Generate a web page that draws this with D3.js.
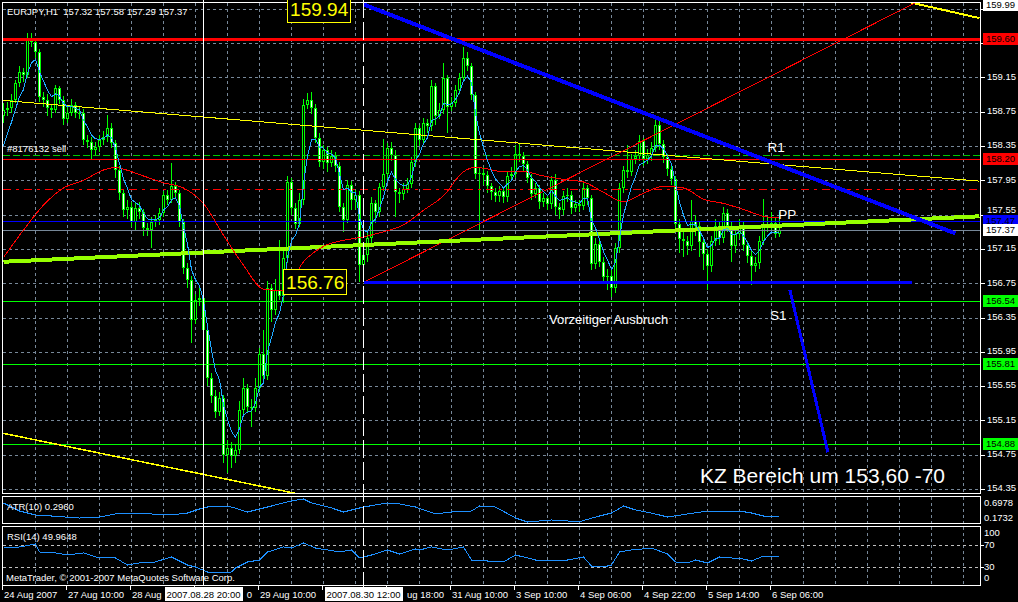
<!DOCTYPE html>
<html>
<head>
<meta charset="utf-8">
<script src="https://cdn.jsdelivr.net/npm/d3@7"></script>
<style>
  html, body { margin: 0; background: #000; }
  svg { display: block; font-family: "Liberation Sans", Arial, sans-serif; }
</style>
</head>
<body>
<svg id="chart" width="1018" height="602"></svg>
<script>
// ---- data (EURJPY H1) ----
var opens = [
  158.70,158.77,158.79,158.89,159.08,159.21,159.18,159.58,159.56,159.44,
  158.92,158.89,158.79,158.77,159.02,158.89,158.67,158.73,158.83,158.74,
  158.73,158.42,158.40,158.30,158.34,158.42,158.45,158.56,158.38,158.07,
  157.80,157.60,157.64,157.46,157.63,157.58,157.39,157.37,157.46,157.49,
  157.57,157.78,157.72,157.88,157.80,157.46,156.93,156.79,156.32,156.55,
  156.58,156.20,155.64,155.43,155.25,155.41,154.75,154.83,154.74,154.81,
  155.27,155.53,155.31,155.29,155.53,155.92,155.67,156.69,156.44,156.67,
  156.60,157.04,157.93,157.63,157.44,157.72,158.83,158.89,158.79,158.44,
  158.16,158.30,158.15,158.23,158.12,157.64,157.49,157.89,157.72,157.78,
  156.96,157.08,157.28,157.68,157.58,157.87,158.02,158.33,158.24,157.81,
  157.79,157.85,157.91,158.16,158.56,158.42,158.62,158.58,159.05,158.70,
  158.77,159.14,158.81,158.85,159.00,159.14,159.37,159.28,158.94,158.02,
  158.03,158.01,157.88,157.81,157.77,157.82,157.75,158.00,158.02,158.26,
  158.23,158.14,157.98,157.79,157.86,157.70,157.74,157.67,157.95,157.64,
  157.60,157.77,157.78,157.63,157.67,157.65,157.86,157.74,156.97,157.21,
  157.00,156.82,156.84,156.69,157.16,157.86,158.07,158.05,158.20,158.23,
  158.41,158.20,158.24,158.33,158.60,158.37,158.22,158.08,157.96,157.44,
  157.27,157.24,157.18,157.47,157.42,157.23,157.09,156.95,157.24,157.42,
  157.28,157.57,157.42,157.18,157.32,157.42,157.20,157.07,156.95,156.98,
  157.24,157.44,157.42,157.45,157.32
];
var highs = [
  158.85,158.86,158.95,159.12,159.28,159.26,159.67,159.67,159.60,159.48,
  158.98,158.95,158.84,159.06,159.05,158.93,158.80,158.90,158.86,158.80,
  158.78,158.48,158.46,158.40,158.48,158.52,158.71,158.62,158.42,158.12,
  157.84,157.72,157.70,157.68,157.70,157.62,157.45,157.52,157.55,157.63,
  157.82,157.84,158.15,157.93,157.84,157.50,156.98,156.84,156.62,156.70,
  156.63,156.25,155.70,155.50,155.48,155.45,154.92,154.90,154.88,155.38,
  155.64,155.58,155.40,155.65,156.00,156.20,156.78,156.74,156.80,157.25,
  157.12,158.00,157.98,157.68,157.80,158.90,158.97,158.98,158.84,158.50,
  158.36,158.34,158.30,158.28,158.16,157.68,157.95,157.94,157.84,157.82,
  157.15,157.35,157.75,157.72,157.92,158.43,158.38,158.40,158.30,157.86,
  157.92,157.98,158.22,158.62,158.60,158.68,158.66,159.12,159.08,158.85,
  159.32,159.18,158.92,159.06,159.20,159.50,159.45,159.32,158.98,158.10,
  158.10,158.06,157.92,157.86,157.88,157.86,158.06,158.10,158.36,158.37,
  158.28,158.18,158.02,157.92,157.90,157.80,157.78,158.00,158.02,157.68,
  157.82,157.86,157.82,157.72,157.72,157.92,157.90,157.78,157.28,157.26,
  157.05,156.92,156.90,157.22,157.92,158.12,158.36,158.26,158.30,158.48,
  158.44,158.32,158.40,158.65,158.65,158.42,158.26,158.12,158.00,157.50,
  157.35,157.30,157.72,157.55,157.48,157.28,157.15,157.30,157.50,157.48,
  157.64,157.62,157.46,157.40,157.50,157.46,157.24,157.12,157.05,157.30,
  157.73,157.52,157.58,157.52,157.58
];
var lows = [
  158.62,158.70,158.74,158.85,159.04,159.10,159.14,159.50,159.38,158.86,
  158.80,158.70,158.68,158.74,158.84,158.60,158.62,158.70,158.68,158.66,
  158.36,158.33,158.19,158.25,158.28,158.36,158.40,158.33,157.98,157.72,
  157.52,157.50,157.40,157.36,157.50,157.30,157.30,157.16,157.40,157.43,
  157.52,157.66,157.68,157.74,157.40,156.86,156.70,156.05,156.28,156.48,
  156.10,155.55,155.35,155.18,155.20,154.66,154.54,154.60,154.65,154.76,
  155.20,155.25,155.07,155.25,155.48,155.62,155.62,156.30,156.38,156.55,
  156.52,156.98,157.55,157.38,157.40,157.66,158.78,158.72,158.38,158.10,
  158.08,158.05,158.10,158.05,157.58,157.35,157.45,157.60,157.60,156.76,
  156.76,157.00,157.22,157.45,157.52,157.82,157.96,158.18,157.52,157.68,
  157.72,157.80,157.86,158.10,158.35,158.38,158.50,158.52,158.60,158.66,
  158.72,158.50,158.76,158.80,158.95,159.10,159.22,158.88,157.96,157.37,
  157.90,157.80,157.72,157.70,157.70,157.68,157.70,157.94,157.98,158.16,
  158.06,157.92,157.72,157.74,157.62,157.64,157.60,157.62,157.55,157.50,
  157.55,157.70,157.56,157.58,157.58,157.60,157.66,156.90,156.92,156.94,
  156.75,156.67,156.59,156.64,157.10,157.80,157.98,158.00,158.14,158.18,
  158.12,158.14,158.18,158.28,158.30,158.15,158.00,157.90,157.38,157.10,
  157.05,157.08,157.12,157.30,157.05,156.90,156.67,156.88,157.18,157.20,
  157.22,157.35,157.00,157.10,157.26,157.12,156.98,156.73,156.88,156.92,
  157.20,157.35,157.36,157.28,157.29
];
var closes = [
  158.77,158.79,158.89,159.08,159.21,159.18,159.58,159.56,159.44,158.92,
  158.89,158.79,158.77,159.02,158.89,158.67,158.73,158.83,158.74,158.73,
  158.42,158.40,158.30,158.34,158.42,158.45,158.56,158.38,158.07,157.80,
  157.60,157.64,157.46,157.63,157.58,157.39,157.37,157.46,157.49,157.57,
  157.78,157.72,157.88,157.80,157.46,156.93,156.79,156.32,156.55,156.58,
  156.20,155.64,155.43,155.25,155.41,154.75,154.83,154.74,154.81,155.27,
  155.53,155.31,155.29,155.53,155.92,155.67,156.69,156.44,156.67,156.60,
  157.04,157.93,157.63,157.44,157.72,158.83,158.89,158.79,158.44,158.16,
  158.30,158.15,158.23,158.12,157.64,157.49,157.89,157.72,157.78,156.96,
  157.08,157.28,157.68,157.58,157.87,158.02,158.33,158.24,157.81,157.79,
  157.85,157.91,158.16,158.56,158.42,158.62,158.58,159.05,158.70,158.77,
  159.14,158.81,158.85,159.00,159.14,159.37,159.28,158.94,158.02,158.03,
  158.01,157.88,157.81,157.77,157.82,157.75,158.00,158.02,158.26,158.23,
  158.14,157.98,157.79,157.86,157.70,157.74,157.67,157.95,157.64,157.60,
  157.77,157.78,157.63,157.67,157.65,157.86,157.74,156.97,157.21,157.00,
  156.82,156.84,156.69,157.16,157.86,158.07,158.05,158.20,158.23,158.41,
  158.20,158.24,158.33,158.60,158.37,158.22,158.08,157.96,157.44,157.27,
  157.24,157.18,157.47,157.42,157.23,157.09,156.95,157.24,157.42,157.28,
  157.57,157.42,157.18,157.32,157.42,157.20,157.07,156.95,156.98,157.24,
  157.44,157.42,157.45,157.32,157.37
];

// fast MA start level (left edge of the blue line)
var emaSeed = 158.35;
var emaPeriod = 5;

// slow MA (red curve), read at sample bars
var slowBars = [0,5,10,15,20,25,28,30,35,40,45,50,55,60,65,70,75,80,85,90,95,100,105,110,115,118,120,125,130,135,140,145,150,155,160,165,170,175,180,185,190,194];
var slowVals = [157.05,157.37,157.66,157.86,157.95,158.07,158.10,158.08,158.00,157.92,157.86,157.68,157.31,156.96,156.68,156.66,157.00,157.18,157.25,157.29,157.35,157.43,157.60,157.77,158.05,158.10,158.09,158.05,158.05,158.00,157.96,157.93,157.81,157.70,157.80,157.88,157.86,157.73,157.68,157.61,157.53,157.51];

// ATR(10)
var atrBars = [0,4,8,12,19,24,28,37,42,46,49,52,57,61,66,70,72,75,77,82,85,90,96,99,103,108,112,117,119,123,128,131,137,144,149,152,155,158,162,166,171,176,184,187,191,194];
var atrVals = [0.607,0.424,0.333,0.310,0.264,0.287,0.356,0.356,0.333,0.378,0.470,0.538,0.515,0.401,0.515,0.607,0.652,0.698,0.607,0.493,0.401,0.515,0.607,0.584,0.515,0.356,0.401,0.424,0.538,0.515,0.264,0.173,0.219,0.180,0.310,0.378,0.538,0.447,0.378,0.287,0.356,0.424,0.424,0.378,0.287,0.296];
var atrMin = 0.1732, atrMax = 0.6978;

// RSI(14)
var rsiBars = [0,4,8,9,13,16,20,24,28,31,34,37,42,46,48,51,53,57,58,61,64,66,70,72,75,78,81,84,87,89,92,96,99,103,104,107,111,115,117,121,125,128,131,134,137,141,145,147,150,152,154,157,162,166,168,171,173,176,179,182,185,187,190,192,194];
var rsiVals = [64.5,66.4,71.8,57.3,55.5,51.8,55.5,46.4,46.4,33.6,37.3,37.3,48.2,33.6,30.0,20.9,19.1,20.9,28.2,39.1,42.7,57.3,66.4,64.5,73.6,64.5,60.9,57.3,60.9,46.4,51.8,60.9,53.6,62.7,60.9,66.4,60.9,66.4,42.7,40.9,39.1,51.8,46.4,40.9,42.7,42.7,48.2,31.8,30.0,33.6,57.3,60.9,64.5,53.6,39.1,37.3,42.7,37.3,48.2,46.4,44.5,40.9,50.0,50.0,49.96];
var rsiLast = 49.9648;
var rsiLevels = [70, 30];
var rsiScaleLabels = [100, 70, 30, 0];

// price axis ticks
var priceTicks = [159.95,159.55,159.15,158.75,158.35,157.95,157.55,157.15,156.75,156.35,155.95,155.55,155.15,154.75,154.35];

// time axis
var timeBars = [0,16,32,48,64,80,96,112,128,144,160,176,192];
var timeLabels = ["24 Aug 2007","27 Aug 10:00","28 Aug 02:00","28 Aug 18:00","29 Aug 10:00","30 Aug 02:00","30 Aug 18:00","31 Aug 10:00","3 Sep 10:00","4 Sep 06:00","4 Sep 22:00","5 Sep 14:00","6 Sep 06:00"];

// vertical line objects
var vlineBars = [50, 90];
var vlineLabels = ["2007.08.28 20:00", "2007.08.30 12:00"];

// horizontal level objects
var levelPrices = [159.60, 158.20, 158.25, 157.85, 157.47, 157.37, 156.54, 155.81, 154.88];
// price markers on the right scale
var markPrices = [159.99, 159.60, 158.20, 157.47, 157.37, 156.54, 155.81, 154.88];

// trend objects: [bar1, price1, bar2, price2]
var blueTrend = [90, 160.00, 238, 157.33];
var blueFlat = [90, 156.76, 227, 156.76];
var blueDrop = [196.6, 156.67, 206.1, 154.78];
var greenTrend = [0, 157.00, 244, 157.53];
var redRay = [90, 156.76, 228, 160.02];
var yellowTop = [0, 158.88, 244, 157.94];
var yellowLow = [0, 155.00, 73, 154.30];
var yellowHigh = [227, 160.02, 244, 159.84];

// price boxes and chart texts
var priceBoxes = [ { t: "159.94", i: 70.9, p: 159.94 }, { t: "156.76", i: 69.9, p: 156.76 } ];
var chartTexts = [
  { t: "R1", i: 191, p: 158.28 },
  { t: "PP", i: 193.7, p: 157.50 },
  { t: "S1", i: 191.6, p: 156.32 },
  { t: "Vorzeitiger Ausbruch", i: 136.4, p: 156.27 },
  { t: "KZ Bereich um 153,60 -70", i: 174.1, p: 154.42 }
];

// ---- drawing ----
var W = 1018, H = 602;
var svg = d3.select("#chart").attr("shape-rendering", "crispEdges");
svg.append("rect").attr("width", W).attr("height", H).attr("fill", "#000");

var x = d3.scaleLinear().domain([0, 244]).range([3.5, 979.5]);
var y = d3.scaleLinear().domain([154.30, 160.02]).range([493.4, 2.7]);
var yAtr = d3.scaleLinear().domain([atrMin, atrMax]).range([522, 499]);
var yRsi = d3.scaleLinear().domain([0, 100]).range([583.5, 528.5]);

var grid = "#778899";
var fontS = "9.5px";

svg.append("clipPath").attr("id", "clipMain")
  .append("rect").attr("x", 3).attr("y", 3).attr("width", 977).attr("height", 490);

// vertical grid (all panels)
var vg = d3.range(8, 244, 8);
[[3, 493], [497, 523], [527, 585]].forEach(function (pp) {
  svg.append("g").selectAll("line").data(vg).join("line")
    .attr("x1", function (d) { return x(d); }).attr("x2", function (d) { return x(d); })
    .attr("y1", pp[0]).attr("y2", pp[1])
    .attr("stroke", grid).attr("stroke-dasharray", "3,3");
});

// horizontal grid
svg.append("g").selectAll("line").data(priceTicks).join("line")
  .attr("x1", 3).attr("x2", 980)
  .attr("y1", function (d) { return Math.round(y(d)) + 0.5; })
  .attr("y2", function (d) { return Math.round(y(d)) + 0.5; })
  .attr("stroke", grid).attr("stroke-dasharray", "3,3");

svg.append("g").selectAll("line").data(rsiLevels).join("line")
  .attr("x1", 3).attr("x2", 980)
  .attr("y1", function (d) { return Math.round(yRsi(d)) + 0.5; })
  .attr("y2", function (d) { return Math.round(yRsi(d)) + 0.5; })
  .attr("stroke", "#c0c0c0").attr("stroke-dasharray", "3,3");

var main = svg.append("g").attr("clip-path", "url(#clipMain)");

// candles
var bars = d3.range(closes.length);
var gc = main.append("g");
gc.selectAll("line").data(bars).join("line")
  .attr("x1", function (i) { return x(i); }).attr("x2", function (i) { return x(i); })
  .attr("y1", function (i) { return Math.round(y(highs[i])); })
  .attr("y2", function (i) { return Math.round(y(lows[i])); })
  .attr("stroke", "#00ff00");
function bTop(i) { return Math.round(y(Math.max(opens[i], closes[i]))); }
function bBot(i) { return Math.round(y(Math.min(opens[i], closes[i]))); }
gc.selectAll("rect.body").data(bars).join("rect").attr("class", "body")
  .attr("x", function (i) { return x(i) - 1.5; }).attr("width", 3)
  .attr("y", bTop)
  .attr("height", function (i) { return Math.max(1, bBot(i) - bTop(i)); })
  .attr("fill", "#00ff00");
gc.selectAll("rect.core").data(bars.filter(function (i) { return bBot(i) - bTop(i) > 2; })).join("rect").attr("class", "core")
  .attr("x", function (i) { return x(i) - 0.5; }).attr("width", 1)
  .attr("y", function (i) { return bTop(i) + 1; })
  .attr("height", function (i) { return bBot(i) - bTop(i) - 2; })
  .attr("fill", function (i) { return closes[i] < opens[i] ? "#ffffff" : "#000000"; });

// levels
var levelStyle = [
  { c: "#ff0000", w: 3 }, { c: "#ff0000", w: 1 }, { c: "#00c800", w: 1, d: "7,3" },
  { c: "#ff0000", w: 1, d: "8,5,3,5" }, { c: "#0000ff", w: 1 }, { c: "#778899", w: 1 },
  { c: "#00ff00", w: 1 }, { c: "#00ff00", w: 1 }, { c: "#00ff00", w: 1 }
];
main.append("g").selectAll("line").data(levelPrices).join("line")
  .attr("x1", 3).attr("x2", 980)
  .attr("y1", function (d, k) { return Math.round(y(d)) + (levelStyle[k].w % 2 ? 0.5 : 0); })
  .attr("y2", function (d, k) { return Math.round(y(d)) + (levelStyle[k].w % 2 ? 0.5 : 0); })
  .attr("stroke", function (d, k) { return levelStyle[k].c; })
  .attr("stroke-width", function (d, k) { return levelStyle[k].w; })
  .attr("stroke-dasharray", function (d, k) { return levelStyle[k].d || null; });

// trend objects
function seg(s, color, w) {
  main.append("line")
    .attr("x1", x(s[0])).attr("y1", y(s[1])).attr("x2", x(s[2])).attr("y2", y(s[3]))
    .attr("stroke", color).attr("stroke-width", w);
}
seg(yellowTop, "#ffff00", 1);
seg(yellowLow, "#ffff00", 1.5);
seg(yellowHigh, "#ffff00", 2);
seg(redRay, "#ff0000", 1);
seg(greenTrend, "#96ff00", 4);
seg(blueFlat, "#0000ff", 3);
seg(blueTrend, "#0000ff", 4);
seg(blueDrop, "#0000ff", 3);

// moving averages
var ema = [];
var k = 2 / (emaPeriod + 1), prev = emaSeed;
closes.forEach(function (c, i) { if (i > 0) prev = prev + k * (c - prev); ema.push(prev); });
main.append("path").datum(slowBars.map(function (b, j) { return [b, slowVals[j]]; }))
  .attr("d", d3.line().x(function (d) { return x(d[0]); }).y(function (d) { return y(d[1]); }).curve(d3.curveMonotoneX))
  .attr("fill", "none").attr("stroke", "#ff0000");
main.append("path").datum(ema)
  .attr("d", d3.line().x(function (d, i) { return x(i); }).y(function (d) { return y(d); }))
  .attr("fill", "none").attr("stroke", "#20a8ff");

// indicators
svg.append("path").datum(atrBars.map(function (b, j) { return [b, atrVals[j]]; }))
  .attr("d", d3.line().x(function (d) { return x(d[0]); }).y(function (d) { return yAtr(d[1]); }))
  .attr("fill", "none").attr("stroke", "#1e90ff");
svg.append("path").datum(rsiBars.map(function (b, j) { return [b, rsiVals[j]]; }))
  .attr("d", d3.line().x(function (d) { return x(d[0]); }).y(function (d) { return yRsi(d[1]); }))
  .attr("fill", "none").attr("stroke", "#1e90ff");

// vertical line objects
svg.append("line").attr("x1", x(vlineBars[0])).attr("x2", x(vlineBars[0])).attr("y1", 0).attr("y2", 586)
  .attr("stroke", "#fff");
svg.append("line").attr("x1", x(vlineBars[1])).attr("x2", x(vlineBars[1])).attr("y1", 0).attr("y2", 590)
  .attr("stroke", "#fff").attr("stroke-dasharray", "18,4");

// panel frames
[[2.5, 2.5, 978, 491], [2.5, 496.5, 978, 27], [2.5, 526.5, 978, 59]].forEach(function (r) {
  svg.append("rect").attr("x", r[0]).attr("y", r[1]).attr("width", r[2]).attr("height", r[3])
    .attr("fill", "none").attr("stroke", "#fff");
});

// price boxes on chart
priceBoxes.forEach(function (b) {
  var g = svg.append("g");
  var t = g.append("text").attr("x", x(b.i) + 3).attr("y", y(b.p)).attr("dy", "0.36em")
    .attr("fill", "#ffff00").attr("font-size", "19px").text(b.t);
  var w = t.node().getComputedTextLength();
  g.insert("rect", "text").attr("x", Math.round(x(b.i)) + 0.5).attr("y", Math.round(y(b.p)) - 12.5)
    .attr("width", Math.round(w) + 5).attr("height", 25)
    .attr("fill", "#000").attr("stroke", "#ffff00");
});

// chart texts
chartTexts.forEach(function (c, j) {
  svg.append("text").attr("x", x(c.i)).attr("y", y(c.p))
    .attr("fill", "#fff").attr("font-size", j === 4 ? "21px" : (j === 3 ? "13px" : "13.5px"))
    .text(c.t);
});

// right price scale (tick labels hidden behind a marker are left out, as on the chart)
var shownTicks = priceTicks.filter(function (t) {
  return !markPrices.some(function (m) { return Math.abs(y(m) - y(t)) < 5; });
});
function tickLabelY(t) {
  var ty = y(t) - 1;
  markPrices.forEach(function (m) {
    var my = Math.round(y(m));
    // a marker just below pushes the label up so it sits above the box
    if (my > ty && my - ty < 12) ty = Math.min(ty, my - 6 - 5.5);
  });
  return ty;
}
svg.append("g").selectAll("line").data(priceTicks).join("line")
  .attr("x1", 981).attr("x2", 985)
  .attr("y1", function (d) { return Math.round(y(d)) + 0.5; })
  .attr("y2", function (d) { return Math.round(y(d)) + 0.5; })
  .attr("stroke", "#fff");
svg.append("g").selectAll("text").data(shownTicks).join("text")
  .attr("x", 987).attr("y", tickLabelY).attr("dy", "0.35em")
  .attr("fill", "#fff").attr("font-size", fontS)
  .text(function (d) { return d.toFixed(2); });

var markStyle = [
  { bg: "#ffffff", fg: "#000" }, { bg: "#ff0000", fg: "#000" }, { bg: "#ff0000", fg: "#000" },
  { bg: "#0000ff", fg: "#000" }, { bg: "#ffffff", fg: "#000" }, { bg: "#00ff00", fg: "#000" },
  { bg: "#00ff00", fg: "#000" }, { bg: "#00ff00", fg: "#000" }
];
var gm = svg.append("g");
markPrices.forEach(function (p, j) {
  var cy = Math.round(y(p));
  gm.append("rect").attr("x", 983).attr("y", cy - 6).attr("width", 35).attr("height", 12)
    .attr("fill", markStyle[j].bg);
  gm.append("text").attr("x", 986).attr("y", cy).attr("dy", "0.36em")
    .attr("fill", markStyle[j].fg).attr("font-size", fontS).text(p.toFixed(2));
});

// indicator scales
svg.append("text").attr("x", 984).attr("y", yAtr(atrMax) + 4).attr("dy", "0.35em")
  .attr("fill", "#fff").attr("font-size", fontS).text(atrMax.toFixed(4));
svg.append("text").attr("x", 984).attr("y", yAtr(atrMin) - 4).attr("dy", "0.35em")
  .attr("fill", "#fff").attr("font-size", fontS).text(atrMin.toFixed(4));
svg.append("g").selectAll("text").data(rsiScaleLabels).join("text")
  .attr("x", 984)
  .attr("y", function (d) { return Math.min(Math.max(yRsi(d), 533), 578); }).attr("dy", "0.35em")
  .attr("fill", "#fff").attr("font-size", fontS).text(function (d) { return d; });
svg.append("g").selectAll("line").data(rsiLevels).join("line")
  .attr("x1", 981).attr("x2", 984)
  .attr("y1", function (d) { return Math.round(yRsi(d)) + 0.5; })
  .attr("y2", function (d) { return Math.round(yRsi(d)) + 0.5; })
  .attr("stroke", "#fff");

// time scale; labels are cut where a vertical-line time box covers them
var boxes = vlineBars.map(function (b) { return [Math.round(x(b)) - 39, Math.round(x(b)) + 39]; });
svg.append("g").selectAll("line").data(timeBars).join("line")
  .attr("x1", function (d) { return x(d) - 1; }).attr("x2", function (d) { return x(d) - 1; })
  .attr("y1", 586).attr("y2", 590).attr("stroke", "#fff");
var gt = svg.append("g");
timeBars.forEach(function (b, j) {
  var x0 = x(b) + 0.5, label = timeLabels[j];
  var t = gt.append("text").attr("x", x0).attr("y", 598)
    .attr("fill", "#fff").attr("font-size", fontS).attr("xml:space", "preserve").text(label);
  var w = t.node().getComputedTextLength();
  boxes.forEach(function (bx) {
    if (x0 + w <= bx[0] || x0 >= bx[1]) return;
    var n = t.node(), s, cut;
    if (x0 < bx[0]) {
      // keep the head that stays left of the box
      for (cut = label.length; cut > 0; cut--) {
        if (x0 + n.getSubStringLength(0, cut) <= bx[0] - 2) break;
      }
      s = label.slice(0, cut).trim();
      t.text(s);
    } else {
      // keep the tail that shows right of the box
      for (cut = 0; cut < label.length; cut++) {
        if (x0 + n.getSubStringLength(0, cut) >= bx[1] + 1) break;
      }
      var off = cut > 0 ? n.getSubStringLength(0, cut) : 0;
      s = label.slice(cut);
      t.attr("x", x0 + off).text(s.replace(/^\s+/, ""));
    }
    if (!t.text()) t.remove();
  });
});
vlineBars.forEach(function (b, j) {
  svg.append("rect").attr("x", boxes[j][0]).attr("y", 587).attr("width", 78).attr("height", 14)
    .attr("fill", "#fff");
  svg.append("text").attr("x", x(b)).attr("y", 598).attr("text-anchor", "middle")
    .attr("fill", "#000").attr("font-size", fontS).text(vlineLabels[j]);
});

// captions
var last = closes.length - 1;
svg.append("text").attr("x", 7).attr("y", 15).attr("fill", "#fff").attr("font-size", fontS)
  .attr("xml:space", "preserve")
  .text("EURJPY,H1  " + [opens[last], highs[last], lows[last], closes[last]].map(function (v) { return v.toFixed(2); }).join(" "));
svg.append("text").attr("x", 7).attr("y", 152).attr("fill", "#fff").attr("font-size", fontS).text("#8176132 sell");
svg.append("text").attr("x", 7).attr("y", 510).attr("fill", "#fff").attr("font-size", fontS)
  .text("ATR(10) " + atrVals[atrVals.length - 1].toFixed(4));
svg.append("text").attr("x", 7).attr("y", 540).attr("fill", "#fff").attr("font-size", fontS)
  .text("RSI(14) " + rsiLast.toFixed(4));
svg.append("text").attr("x", 6).attr("y", 581).attr("fill", "#fff").attr("font-size", fontS)
  .text("MetaTrader, \u00a9 2001-2007 MetaQuotes Software Corp.");
</script>
</body>
</html>
